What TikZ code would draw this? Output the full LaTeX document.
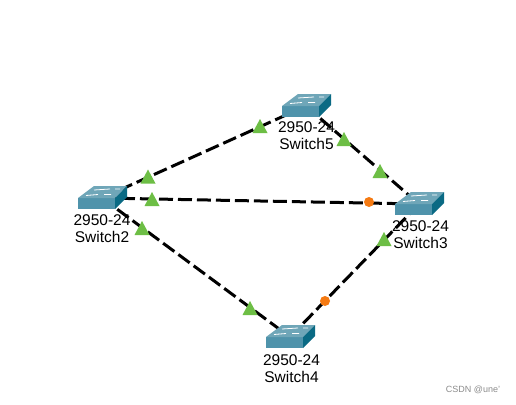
\documentclass[tikz,border=0pt]{standalone}
\usepackage{fontspec}
\setmainfont{Liberation Sans}
\definecolor{swfront}{HTML}{4F93AB}
\definecolor{swtop}{HTML}{6FA6B8}
\definecolor{swside}{HTML}{0A6A84}
\definecolor{ledgreen}{HTML}{6DBE45}
\definecolor{ledorange}{HTML}{F57A12}
\tikzset{
  x=1pt,y=-1pt,
  link/.style={line width=3pt,black,dash pattern=on 14pt off 5pt},
  swlabel/.style={align=center,font=\fontsize{15.5}{17}\selectfont,inner sep=0pt,text=black},
  switchbox/.pic={
    \fill[swfront] (-24,0) -- (13,0) -- (13,11) -- (-24,11) -- cycle;
    \fill[swtop] (-24,0) -- (-8,-12) -- (25,-12) -- (13,0) -- cycle;
    \fill[swside] (13,0) -- (25,-12) -- (25,-1) -- (13,11) -- cycle;
    \draw[white,line width=0.8pt] (-16,-2.5) -- (-4,-3.5) (-8,-8) -- (8,-9) (2,-3.5)--(9,-3.5) (13,-9)--(18,-9);
  },
  uptri/.pic={\fill[ledgreen] (-7.5,7) -- (0,-7) -- (7.5,7) -- cycle;},
  downdot/.pic={\fill[ledorange] (0,0) circle (5);}
}
\begin{document}
\begin{tikzpicture}
\useasboundingbox (0,0) rectangle (516,404);
\fill[white] (0,0) rectangle (516,404);
\coordinate (s2) at (102,198);
\coordinate (s5) at (306,106);
\coordinate (s3) at (419,204);
\coordinate (s4) at (290,337);
\draw[link] (s2) -- (s5);
\draw[link] (s5) -- (s3);
\draw[link] (s2) -- (s3);
\draw[link] (s2) -- (s4);
\draw[link] (s4) -- (s3);
\pic at (s2) {switchbox};
\pic at (s5) {switchbox};
\pic at (s3) {switchbox};
\pic at (s4) {switchbox};
\pic at (148,176.5) {uptri};
\pic at (152,199) {uptri};
\pic at (142,228) {uptri};
\pic at (260,126) {uptri};
\pic at (344,139) {uptri};
\pic at (380,171) {uptri};
\pic at (384,239) {uptri};
\pic at (250,308) {uptri};
\pic at (369,202) {downdot};
\pic at (325,301) {downdot};
\node[swlabel] (l2) at (102,228.5) {2950-24\\Switch2};
\node[swlabel] (l5) at (306.5,135.5) {2950-24\\Switch5};
\node[swlabel] (l3) at (420.5,234.5) {2950-24\\Switch3};
\node[swlabel] (l4) at (291.5,368.5) {2950-24\\Switch4};
\node[font=\fontsize{9}{10}\selectfont,text=black!45,inner sep=0pt] (wm) at (473,390) {CSDN @une'};
\end{tikzpicture}
\end{document}
